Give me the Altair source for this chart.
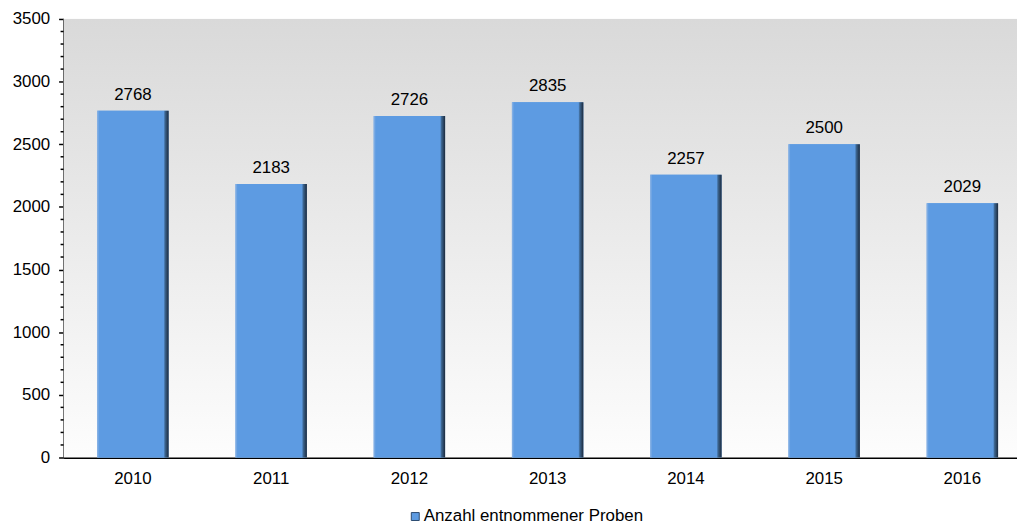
import altair as alt
import pandas as pd

years = ["2010", "2011", "2012", "2013", "2014", "2015", "2016"]
values = [2768, 2183, 2726, 2835, 2257, 2500, 2029]
series_name = "Anzahl entnommener Proben"
y_major = [0, 500, 1000, 1500, 2000, 2500, 3000, 3500]
y_minor = [v for v in range(0, 3501, 100) if v % 500 != 0]

bars_df = pd.DataFrame({"year": years, "value": values, "series": [series_name] * len(years)})
minor_df = pd.DataFrame({"value": y_minor})

FONT = "Liberation Sans"
W, H = 961, 442

x_scale = alt.Scale(paddingInner=0.4833, paddingOuter=0.19, align=0.64)
y_scale = alt.Scale(domain=[0, 3500], nice=False, zero=True)

background = alt.Chart(pd.DataFrame({"value": [0]})).mark_rect(
    fill=alt.LinearGradient(
        gradient="linear",
        stops=[alt.GradientStop(offset=0, color="#d9d9d9"),
               alt.GradientStop(offset=1, color="#fdfdfd")],
        x1=0, x2=0, y1=0, y2=1,
    )
).encode(x=alt.value(0), x2=alt.value("width"), y=alt.value(0), y2=alt.value("height"))

base = alt.Chart(bars_df)

bars = base.mark_bar(color="#5d9be2").encode(
    x=alt.X("year:N", scale=x_scale, sort=years,
            axis=alt.Axis(title=None, labelAngle=0, ticks=False, tickSize=0, labelPadding=13,
                          labelFontSize=17, labelFont=FONT, labelColor="#000000",
                          domainColor="#000000", domainWidth=2, grid=False)),
    y=alt.Y("value:Q", scale=y_scale,
            axis=alt.Axis(title=None, values=y_major, format="d", tickSize=5, tickWidth=1.5,
                          tickColor="#000000",
                          labelPadding=9, labelFontSize=17, labelFont=FONT, labelColor="#000000",
                          domainColor="#000000", domainWidth=2, grid=True, gridColor="#d6d6d6",
                          gridWidth=1)),
    color=alt.Color("series:N", scale=alt.Scale(range=["#5d9be2"]),
                    legend=alt.Legend(title=None, orient="none", legendX=346, legendY=493,
                                      symbolType="square", symbolSize=64,
                                      symbolStrokeColor="#2a4a70", symbolStrokeWidth=1,
                                      symbolFillColor="#5d9be2",
                                      labelFontSize=17, labelFont=FONT, labelColor="#000000",
                                      labelOffset=0, labelLimit=0, padding=0)),
)

bars_overlay = base.mark_bar(
    fill=alt.LinearGradient(
        gradient="linear",
        stops=[alt.GradientStop(offset=0, color="#8fb5e4"),
               alt.GradientStop(offset=0.03, color="#5d9be2"),
               alt.GradientStop(offset=0.93, color="#5d9be2"),
               alt.GradientStop(offset=0.95, color="#3c6590"),
               alt.GradientStop(offset=1, color="#1c2a3c")],
        x1=0, x2=1, y1=0, y2=0,
    )
).encode(
    x=alt.X("year:N", scale=x_scale, sort=years),
    y=alt.Y("value:Q", scale=y_scale),
)

labels = base.mark_text(dy=-11, baseline="alphabetic", fontSize=17, font=FONT, color="#000000").encode(
    x=alt.X("year:N", scale=x_scale, sort=years),
    y=alt.Y("value:Q", scale=y_scale),
    text=alt.Text("value:Q", format="d"),
)

minor_ticks = alt.Chart(minor_df).mark_rule(color="#000000", strokeWidth=1.5).encode(
    x=alt.value(-3), x2=alt.value(0),
    y=alt.Y("value:Q", scale=y_scale),
)

chart = alt.layer(background, bars, bars_overlay, labels, minor_ticks).properties(
    width=W, height=H,
    padding={"left": 4, "top": 0, "right": 0, "bottom": 0},
).configure_view(stroke=None).configure(background="#ffffff")

chart.save("out.html", embed_options={"renderer": "svg", "actions": False})
